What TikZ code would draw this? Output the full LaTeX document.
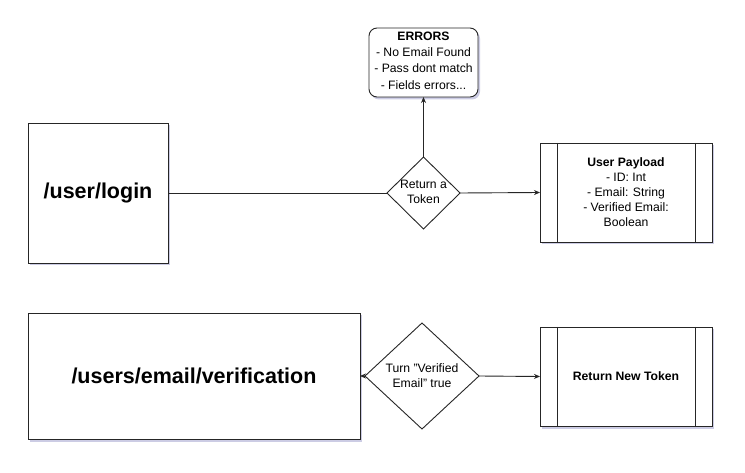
\documentclass[tikz,border=0pt]{standalone}
\usepackage{fontspec}
\setmainfont{Liberation Sans}
\usetikzlibrary{shapes.geometric,shadows,arrows.meta}
\newcommand{\sq}{\symbol{34}}
\begin{document}
\begin{tikzpicture}[x=1pt,y=-1pt,
  line width=0.9pt,
  every node/.style={inner sep=0pt, outer sep=0pt},
  shad/.style={drop shadow={shadow xshift=2pt,shadow yshift=-2.5pt,opacity=0.3,fill=gray!70!blue}},
  bigbox/.style={draw=black!85,fill=white,shad,font=\bfseries\fontsize{21.5}{24}\selectfont},
  proc/.style={draw=black!85,fill=white,shad,minimum width=172pt,minimum height=99pt},
  dia/.style={diamond,draw=black!85,fill=white},
  txt/.style={align=center,font=\fontsize{12.2}{15}\selectfont},
  arr/.style={-{Stealth[length=6pt,width=5pt]}},
  ln/.style={draw=black!85}
]
\useasboundingbox (0,0) rectangle (745,473);
\fill[white] (0,0) rectangle (745,473);

% top row
\node[bigbox,minimum width=140pt,minimum height=140pt] (login) at (98,193) {/user/login};
\node[dia,minimum width=73pt,minimum height=72pt] (d1) at (423.5,193) {};
\node[txt] (d1t) at (423.5,192) {Return a\\Token};
\node[draw=black!85,fill=white,shad,rounded corners=8pt,minimum width=109pt,minimum height=69pt] (err) at (423.5,62.5) {};
\node[txt,font=\fontsize{12.2}{16.4}\selectfont] (errt) at (423.5,60.5) {\textbf{ERRORS}\\- No Email Found\\- Pass dont match\\- Fields errors...};
\node[proc] (pay) at (626,192.5) {};
\node[txt] (payt) at (626,192.5) {\textbf{User Payload}\\- ID: Int\\- Email: String\\- Verified Email:\\Boolean};
\draw[ln] ([xshift=17pt]pay.north west) -- ([xshift=17pt]pay.south west);
\draw[ln] ([xshift=-17pt]pay.north east) -- ([xshift=-17pt]pay.south east);

\draw[ln] (login.east) -- (d1.west);
\draw[ln,arr] (d1.north) -- (err.south);
\draw[ln,arr] (d1.east) -- (pay.west);

% bottom row
\node[bigbox,minimum width=332pt,minimum height=126pt] (ver) at (194,376) {/users/email/verification};
\node[dia,minimum width=114pt,minimum height=106pt] (d2) at (422,376) {};
\node[txt] (d2t) at (422,376) {Turn \sq Verified\\Email\sq\ true};
\node[proc] (ret) at (626,376.5) {};
\node[txt,font=\bfseries\fontsize{12.2}{15}\selectfont] (rett) at (626,376.5) {Return New Token};
\draw[ln] ([xshift=17pt]ret.north west) -- ([xshift=17pt]ret.south west);
\draw[ln] ([xshift=-17pt]ret.north east) -- ([xshift=-17pt]ret.south east);

\draw[ln,arr] (d2.west) -- (ver.east);
\draw[ln,arr] (d2.east) -- (ret.west);
\end{tikzpicture}
\end{document}
